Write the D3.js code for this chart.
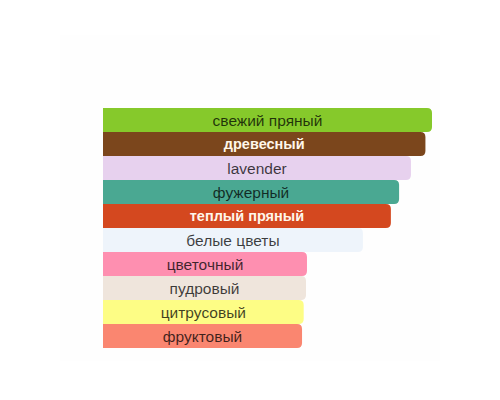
<!DOCTYPE html>
<html>
<meta charset="utf-8" />
<script src="https://d3js.org/d3.v7.min.js"></script>
<body>
<div id="chart"></div>
<script>
var notes = ["свежий пряный", "древесный", "lavender", "фужерный", "теплый пряный",
             "белые цветы", "цветочный", "пудровый", "цитрусовый", "фруктовый"];
var strength = [100, 98, 93.6, 90, 87.5, 79, 62, 61.7, 61, 60.5];
var colors = ["#86c92b", "#7b461c", "#e7d1ee", "#4aa892", "#d4481f",
              "#eef4fb", "#fe8fb0", "#efe5dc", "#fdfd85", "#fa8670"];
var lightText = ["древесный", "теплый пряный"];

var width = 500, height = 400;
var data = notes.map(function(n, i) { return {name: n, value: strength[i], color: colors[i]}; });

var svg = d3.select("#chart").append("svg")
  .attr("width", width)
  .attr("height", height);

// faint panel behind the bars
svg.append("rect")
  .attr("x", 60).attr("y", 35)
  .attr("width", 380).attr("height", 326)
  .attr("fill", "#fefefe");

var x = d3.scaleLinear().domain([0, 100]).range([103, 432]);
var y = d3.scaleBand().domain(notes).range([108, 348]).padding(0);

function barPath(d) {
  var x0 = x(0), x1 = x(d.value), y0 = y(d.name), h = y.bandwidth(), r = 5;
  return "M" + x0 + "," + y0 +
    "H" + (x1 - r) +
    "Q" + x1 + "," + y0 + " " + x1 + "," + (y0 + r) +
    "V" + (y0 + h - r) +
    "Q" + x1 + "," + (y0 + h) + " " + (x1 - r) + "," + (y0 + h) +
    "H" + x0 + "Z";
}

svg.append("g").selectAll("path")
  .data(data)
  .enter()
  .append("path")
  .attr("d", barPath)
  .attr("fill", function(d) { return d.color; });

function isLight(d) { return lightText.indexOf(d.name) >= 0; }

svg.append("g").selectAll("text")
  .data(data)
  .enter()
  .append("text")
  .attr("x", function(d) { return (x(0) + x(d.value)) / 2; })
  .attr("y", function(d) { return y(d.name) + y.bandwidth() / 2; })
  .attr("dy", "0.36em")
  .attr("text-anchor", "middle")
  .attr("font-family", "'Liberation Sans', Arial, sans-serif")
  .attr("font-size", function(d) { return isLight(d) ? 14.5 : 15.5; })
  .attr("font-weight", function(d) { return isLight(d) ? "bold" : "normal"; })
  .attr("fill", function(d) { return isLight(d) ? "#fff6ea" : "rgba(0,0,0,0.75)"; })
  .text(function(d) { return d.name; });
</script>
</body>
<style>
  body { margin: 0; background: #ffffff; }
</style>
</html>
